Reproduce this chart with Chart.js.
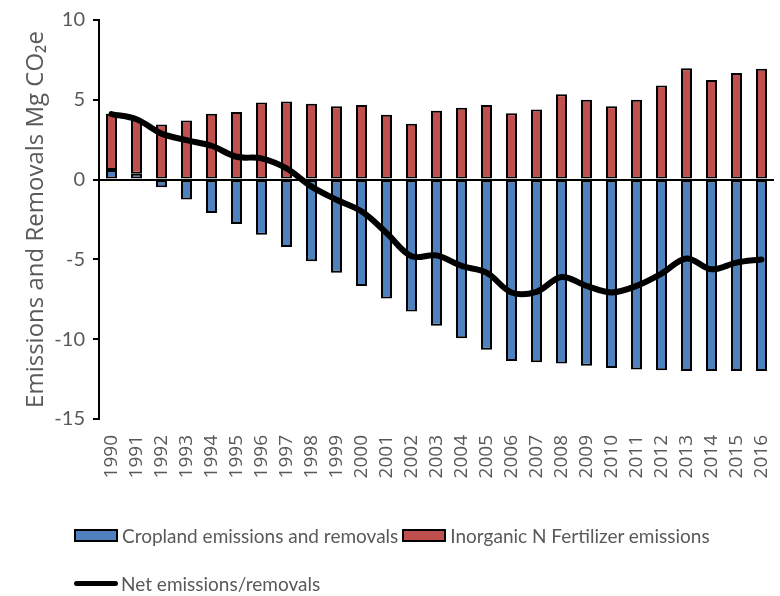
<!DOCTYPE html>
<html>
<head>
<meta charset="utf-8">
<script src="https://cdn.jsdelivr.net/npm/chart.js@4/dist/chart.umd.min.js"></script>
<style>
  html, body { margin: 0; padding: 0; background: #fff; }
  #wrap { position: relative; width: 780px; height: 596px; overflow: hidden; }
  #legend { position: absolute; left: 74px; top: 523px; font-family: Lato, sans-serif; font-size: 19px; color: #595959; }
  .row { display: flex; align-items: center; height: 24px; white-space: nowrap; }
  .row + .row { margin-top: 24px; }
  .box { width: 40px; height: 9px; border: 2px solid #000; margin-right: 4px; }
  .line { width: 44px; height: 5px; background: #000; border-radius: 3px; margin-right: 3px; }
  .txt { margin-right: 4px; }
</style>
</head>
<body>
<div id="wrap">
  <canvas id="emissionsChart"></canvas>
  <div id="legend"></div>
</div>
<script>
const years = ['1990', '1991', '1992', '1993', '1994', '1995', '1996', '1997', '1998', '1999',
  '2000', '2001', '2002', '2003', '2004', '2005', '2006', '2007', '2008', '2009',
  '2010', '2011', '2012', '2013', '2014', '2015', '2016'];

// Mg CO2e
const cropland = [0.6, 0.37, -0.48, -1.24, -2.1, -2.78, -3.46, -4.23, -5.12, -5.83,
  -6.66, -7.45, -8.26, -9.15, -9.94, -10.66, -11.37, -11.45, -11.53, -11.66,
  -11.8, -11.9, -11.95, -12.0, -12.0, -12.0, -12.0];
const fertilizer = [3.53, 3.43, 3.46, 3.7, 4.13, 4.23, 4.83, 4.9, 4.75, 4.6,
  4.67, 4.06, 3.5, 4.31, 4.5, 4.67, 4.15, 4.4, 5.35, 5.0,
  4.6, 5.0, 5.9, 6.97, 6.24, 6.68, 6.95];
const netEmissions = [4.1, 3.78, 2.88, 2.47, 2.12, 1.43, 1.33, 0.7, -0.44, -1.26,
  -1.99, -3.34, -4.8, -4.75, -5.41, -5.83, -7.07, -7.03, -6.1, -6.66,
  -7.07, -6.66, -5.89, -4.94, -5.62, -5.2, -5.0];

const yTicks = [-15, -10, -5, 0, 5, 10];

const grey = '#595959';

const chart = new Chart(document.getElementById('emissionsChart'), {
  type: 'bar',
  data: {
    labels: years,
    datasets: [
      {
        label: 'Net emissions/removals',
        type: 'line',
        data: netEmissions,
        stack: 'net',
        order: 0,
        borderColor: '#000',
        borderWidth: 6,
        tension: 0.35,
        pointRadius: 0,
        borderCapStyle: 'round',
        fill: false
      },
      {
        label: 'Cropland emissions and removals',
        data: cropland,
        stack: 'bars',
        order: 1,
        backgroundColor: '#4F81BD',
        borderColor: '#000',
        borderWidth: 2,
        borderSkipped: false,
        barPercentage: 0.44,
        categoryPercentage: 1
      },
      {
        label: 'Inorganic N Fertilizer emissions',
        data: fertilizer,
        stack: 'bars',
        order: 1,
        backgroundColor: '#C0504D',
        borderColor: '#000',
        borderWidth: 2,
        borderSkipped: false,
        barPercentage: 0.44,
        categoryPercentage: 1
      }
    ]
  },
  options: {
    responsive: true,
    maintainAspectRatio: false,
    animation: false,
    layout: { padding: { left: 0, top: 17, right: 6, bottom: 0 } },
    plugins: {
      legend: { display: false },
      tooltip: { enabled: false }
    },
    scales: {
      x: {
        stacked: true,
        grid: { display: false },
        border: { display: false },
        ticks: {
          color: grey,
          font: { family: 'Open Sans', size: 19 },
          minRotation: 90,
          maxRotation: 90,
          autoSkip: false,
          padding: 8
        },
        afterFit: scale => {
          scale.height = 177;
          // don't let the rotated end labels eat into the plot width
          scale.paddingLeft = 0;
          scale.paddingRight = 0;
        }
      },
      y: {
        stacked: true,
        min: -15,
        max: 10,
        afterBuildTicks: scale => { scale.ticks = yTicks.map(v => ({ value: v })); },
        border: { display: true, color: '#000', width: 2 },
        grid: {
          color: ctx => (ctx.tick && ctx.tick.value === 0 ? '#000' : 'rgba(0,0,0,0)'),
          lineWidth: 2,
          tickLength: 6,
          tickColor: '#000',
          tickWidth: 2
        },
        ticks: {
          color: grey,
          font: { family: 'Lato', size: 20 },
          padding: 8
        },
        title: {
          display: true,
          text: 'Emissions and Removals Mg CO₂e',
          color: grey,
          font: { family: 'Open Sans', size: 24 },
          padding: { top: 22, bottom: 0 }
        },
        afterFit: scale => { scale.width = 99; }
      }
    }
  }
});

// html legend: bars on the first row, the net line below
const legendEl = document.getElementById('legend');
const row1 = document.createElement('div');
row1.className = 'row';
const row2 = document.createElement('div');
row2.className = 'row';
chart.data.datasets.forEach(ds => {
  const mark = document.createElement('span');
  const txt = document.createElement('span');
  txt.className = 'txt';
  txt.textContent = ds.label;
  if (ds.type === 'line') {
    mark.className = 'line';
    row2.append(mark, txt);
  } else {
    mark.className = 'box';
    mark.style.background = ds.backgroundColor;
    row1.append(mark, txt);
  }
});
legendEl.append(row1, row2);
</script>
</body>
</html>
